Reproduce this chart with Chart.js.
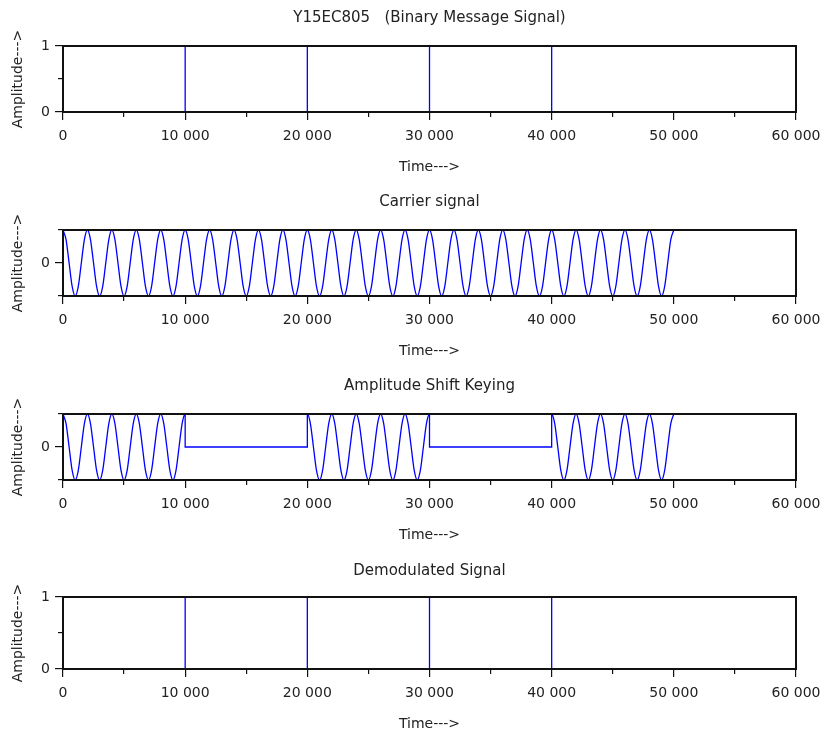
<!DOCTYPE html>
<html>
<head>
<meta charset="utf-8">
<script src="https://cdn.jsdelivr.net/npm/chart.js@4/dist/chart.umd.min.js"></script>
<style>
html,body{margin:0;padding:0;background:#fff;overflow:hidden;width:824px;height:733px}
canvas{position:absolute;left:0;display:block}
</style>
</head>
<body>
<canvas id="c1" width="824" height="179" style="top:1px"></canvas>
<canvas id="c2" width="824" height="179" style="top:185px"></canvas>
<canvas id="c3" width="824" height="179" style="top:369px"></canvas>
<canvas id="c4" width="824" height="185" style="top:552px"></canvas>
<script>
// ---------- data ----------
const plotTitles = ["Y15EC805   (Binary Message Signal)", "Carrier signal", "Amplitude Shift Keying", "Demodulated Signal"];
const xLabel = "Time--->";
const yLabel = "Amplitude--->";

const xTickValues = [0, 10000, 20000, 30000, 40000, 50000, 60000];
const xTickLabels = ["0", "10 000", "20 000", "30 000", "40 000", "50 000", "60 000"];
const xMinorTicks = [5000, 15000, 25000, 35000, 45000, 55000];

const binaryTickValues = [0, 1];
const binaryTickLabels = ["0", "1"];
const binaryMinorTicks = [0.5];

const waveTickValues = [0];
const waveTickLabels = ["0"];
const waveMinorTicks = [-1, 1];

const messageTime  = [0, 10000, 10000, 20000, 20000, 30000, 30000, 40000, 40000, 50000];
const messageValue = [1, 1, 0, 0, 1, 1, 0, 0, 1, 1];

const carrierTime = [
 0,250,500,750,1000,1250,1500,1750,
 2000,2250,2500,2750,3000,3250,3500,3750,
 4000,4250,4500,4750,5000,5250,5500,5750,
 6000,6250,6500,6750,7000,7250,7500,7750,
 8000,8250,8500,8750,9000,9250,9500,9750,
 10000,10250,10500,10750,11000,11250,11500,11750,
 12000,12250,12500,12750,13000,13250,13500,13750,
 14000,14250,14500,14750,15000,15250,15500,15750,
 16000,16250,16500,16750,17000,17250,17500,17750,
 18000,18250,18500,18750,19000,19250,19500,19750,
 20000,20250,20500,20750,21000,21250,21500,21750,
 22000,22250,22500,22750,23000,23250,23500,23750,
 24000,24250,24500,24750,25000,25250,25500,25750,
 26000,26250,26500,26750,27000,27250,27500,27750,
 28000,28250,28500,28750,29000,29250,29500,29750,
 30000,30250,30500,30750,31000,31250,31500,31750,
 32000,32250,32500,32750,33000,33250,33500,33750,
 34000,34250,34500,34750,35000,35250,35500,35750,
 36000,36250,36500,36750,37000,37250,37500,37750,
 38000,38250,38500,38750,39000,39250,39500,39750,
 40000,40250,40500,40750,41000,41250,41500,41750,
 42000,42250,42500,42750,43000,43250,43500,43750,
 44000,44250,44500,44750,45000,45250,45500,45750,
 46000,46250,46500,46750,47000,47250,47500,47750,
 48000,48250,48500,48750,49000,49250,49500,49750,
 50000];
const carrierValue = [
 1,0.71,0,-0.71,-1,-0.71,0,0.71,
 1,0.71,0,-0.71,-1,-0.71,0,0.71,
 1,0.71,0,-0.71,-1,-0.71,0,0.71,
 1,0.71,0,-0.71,-1,-0.71,0,0.71,
 1,0.71,0,-0.71,-1,-0.71,0,0.71,
 1,0.71,0,-0.71,-1,-0.71,0,0.71,
 1,0.71,0,-0.71,-1,-0.71,0,0.71,
 1,0.71,0,-0.71,-1,-0.71,0,0.71,
 1,0.71,0,-0.71,-1,-0.71,0,0.71,
 1,0.71,0,-0.71,-1,-0.71,0,0.71,
 1,0.71,0,-0.71,-1,-0.71,0,0.71,
 1,0.71,0,-0.71,-1,-0.71,0,0.71,
 1,0.71,0,-0.71,-1,-0.71,0,0.71,
 1,0.71,0,-0.71,-1,-0.71,0,0.71,
 1,0.71,0,-0.71,-1,-0.71,0,0.71,
 1,0.71,0,-0.71,-1,-0.71,0,0.71,
 1,0.71,0,-0.71,-1,-0.71,0,0.71,
 1,0.71,0,-0.71,-1,-0.71,0,0.71,
 1,0.71,0,-0.71,-1,-0.71,0,0.71,
 1,0.71,0,-0.71,-1,-0.71,0,0.71,
 1,0.71,0,-0.71,-1,-0.71,0,0.71,
 1,0.71,0,-0.71,-1,-0.71,0,0.71,
 1,0.71,0,-0.71,-1,-0.71,0,0.71,
 1,0.71,0,-0.71,-1,-0.71,0,0.71,
 1,0.71,0,-0.71,-1,-0.71,0,0.71,
 1];

const askTime = [
 0,250,500,750,1000,1250,1500,1750,
 2000,2250,2500,2750,3000,3250,3500,3750,
 4000,4250,4500,4750,5000,5250,5500,5750,
 6000,6250,6500,6750,7000,7250,7500,7750,
 8000,8250,8500,8750,9000,9250,9500,9750,
 10000,10000,20000,
 20000,20250,20500,20750,21000,21250,21500,21750,
 22000,22250,22500,22750,23000,23250,23500,23750,
 24000,24250,24500,24750,25000,25250,25500,25750,
 26000,26250,26500,26750,27000,27250,27500,27750,
 28000,28250,28500,28750,29000,29250,29500,29750,
 30000,30000,40000,
 40000,40250,40500,40750,41000,41250,41500,41750,
 42000,42250,42500,42750,43000,43250,43500,43750,
 44000,44250,44500,44750,45000,45250,45500,45750,
 46000,46250,46500,46750,47000,47250,47500,47750,
 48000,48250,48500,48750,49000,49250,49500,49750,
 50000];
const askValue = [
 1,0.71,0,-0.71,-1,-0.71,0,0.71,
 1,0.71,0,-0.71,-1,-0.71,0,0.71,
 1,0.71,0,-0.71,-1,-0.71,0,0.71,
 1,0.71,0,-0.71,-1,-0.71,0,0.71,
 1,0.71,0,-0.71,-1,-0.71,0,0.71,
 1,0,0,
 1,0.71,0,-0.71,-1,-0.71,0,0.71,
 1,0.71,0,-0.71,-1,-0.71,0,0.71,
 1,0.71,0,-0.71,-1,-0.71,0,0.71,
 1,0.71,0,-0.71,-1,-0.71,0,0.71,
 1,0.71,0,-0.71,-1,-0.71,0,0.71,
 1,0,0,
 1,0.71,0,-0.71,-1,-0.71,0,0.71,
 1,0.71,0,-0.71,-1,-0.71,0,0.71,
 1,0.71,0,-0.71,-1,-0.71,0,0.71,
 1,0.71,0,-0.71,-1,-0.71,0,0.71,
 1,0.71,0,-0.71,-1,-0.71,0,0.71,
 1];

const demodTime  = [0, 10000, 10000, 20000, 20000, 30000, 30000, 40000, 40000, 50000];
const demodValue = [1, 1, 0, 0, 1, 1, 0, 0, 1, 1];

// ---------- rendering ----------
const FONT = "'DejaVu Sans', 'Liberation Sans', sans-serif";
const TEXT = "#222222";
const AXIS = "#111111";
const LINE = "#0000ff";
Chart.defaults.font.family = FONT;
Chart.defaults.color = TEXT;

function pairs(xs, ys) { return xs.map((x, i) => ({x: x, y: ys[i]})); }
function setTicks(values) { return function (scale) { scale.ticks = values.map(v => ({value: v})); }; }

function makePlot(id, title, titlePad, xs, ys, yMin, yMax, yTicks, yLabels, yMinor, smooth) {
  const ctx = document.getElementById(id);
  return new Chart(ctx, {
    type: 'line',
    data: {
      datasets: [{
        data: pairs(xs, ys),
        borderColor: LINE,
        borderWidth: 1.3,
        pointRadius: 0,
        fill: false,
        tension: 0,
        clip: 0,
        cubicInterpolationMode: smooth ? 'monotone' : 'default',
        xAxisID: 'x',
        yAxisID: 'y'
      }]
    },
    options: {
      responsive: false,
      animation: false,
      events: [],
      layout: {padding: {left: 0, right: 28, top: 0, bottom: 0}},
      plugins: {
        legend: {display: false},
        tooltip: {enabled: false},
        title: {
          display: true,
          text: title,
          fullSize: false,
          color: TEXT,
          font: {family: FONT, size: 15, weight: 'normal', lineHeight: 1.2},
          padding: titlePad
        }
      },
      scales: {
        x: {
          type: 'linear', position: 'bottom', weight: 1, min: 0, max: 60000,
          afterBuildTicks: setTicks(xTickValues),
          afterFit: s => { s.height = 68; s.paddingLeft = 0; s.paddingRight = 0; },
          ticks: {callback: (v, i) => xTickLabels[i], autoSkip: false, maxRotation: 0, padding: 8,
                  color: TEXT, font: {family: FONT, size: 14}},
          grid: {drawOnChartArea: false, drawTicks: true, tickLength: 8, color: AXIS, lineWidth: 1.2, z: 1},
          border: {display: true, color: AXIS, width: 2, z: 1},
          title: {display: true, text: xLabel, color: TEXT, font: {family: FONT, size: 14, lineHeight: 1.2},
                  padding: {top: 0, bottom: 4}}
        },
        xMinor: {
          type: 'linear', position: 'bottom', weight: 0, min: 0, max: 60000,
          afterBuildTicks: setTicks(xMinorTicks),
          afterFit: s => { s.height = 0; s.paddingLeft = 0; s.paddingRight = 0; },
          ticks: {display: false},
          grid: {drawOnChartArea: false, drawTicks: true, tickLength: 5, color: AXIS, lineWidth: 1.2, z: 1},
          border: {display: false}
        },
        xTop: {
          type: 'linear', position: 'top', weight: 0, min: 0, max: 60000,
          afterFit: s => { s.height = 0; s.paddingLeft = 0; s.paddingRight = 0; },
          ticks: {display: false},
          grid: {display: false},
          border: {display: true, color: AXIS, width: 2, z: 1}
        },
        y: {
          type: 'linear', position: 'left', weight: 1, min: yMin, max: yMax,
          afterBuildTicks: setTicks(yTicks),
          afterFit: s => { s.width = 63; },
          ticks: {callback: (v, i) => yLabels[i], autoSkip: false, padding: 5,
                  color: TEXT, font: {family: FONT, size: 14}},
          grid: {drawOnChartArea: false, drawTicks: true, tickLength: 8, color: AXIS, lineWidth: 1.2, z: 1},
          border: {display: true, color: AXIS, width: 2, z: 1},
          title: {display: true, text: yLabel, color: TEXT, font: {family: FONT, size: 14, lineHeight: 1.2},
                  padding: {top: 10, bottom: 0}}
        },
        yMinor: {
          type: 'linear', position: 'left', weight: 0, min: yMin, max: yMax,
          afterBuildTicks: setTicks(yMinor),
          afterFit: s => { s.width = 0; },
          ticks: {display: false},
          grid: {drawOnChartArea: false, drawTicks: true, tickLength: 5, color: AXIS, lineWidth: 1.2, z: 1},
          border: {display: false}
        },
        yRight: {
          type: 'linear', position: 'right', weight: 0, min: yMin, max: yMax,
          afterFit: s => { s.width = 0; },
          ticks: {display: false},
          grid: {display: false},
          border: {display: true, color: AXIS, width: 2, z: 1}
        }
      }
    }
  });
}

const padStd = {top: 8, bottom: 19};
const padLast = {top: 10, bottom: 17};
makePlot('c1', plotTitles[0], padStd, messageTime, messageValue, 0, 1, binaryTickValues, binaryTickLabels, binaryMinorTicks, false);
makePlot('c2', plotTitles[1], padStd, carrierTime, carrierValue, -1, 1, waveTickValues, waveTickLabels, waveMinorTicks, true);
makePlot('c3', plotTitles[2], padStd, askTime, askValue, -1, 1, waveTickValues, waveTickLabels, waveMinorTicks, true);
makePlot('c4', plotTitles[3], padLast, demodTime, demodValue, 0, 1, binaryTickValues, binaryTickLabels, binaryMinorTicks, false);
</script>
</body>
</html>
